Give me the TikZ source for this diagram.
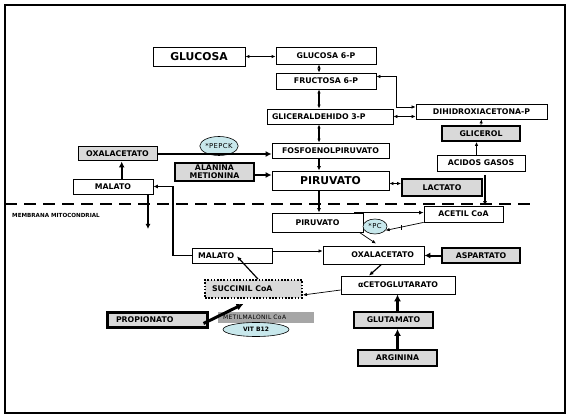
\documentclass[tikz,border=0pt]{standalone}
\usepackage{fontspec}
\setmainfont{DejaVu Sans}
\newfontfamily\spaced[LetterSpace=6]{DejaVu Sans}
\usetikzlibrary{arrows.meta,shapes.geometric,calc}
\definecolor{boxgray}{RGB}{217,217,217}
\definecolor{midgray}{RGB}{166,166,166}
\definecolor{enzyme}{RGB}{200,232,236}
\newcommand{\lab}{\fontsize{7.8}{8.6}\selectfont\bfseries}
\newcommand{\biglab}{\fontsize{10.8}{12}\selectfont\bfseries}

\begin{document}
\begin{tikzpicture}[x=1pt,y=-1pt,
    box/.style={draw, line width=0.8pt, fill=white, inner sep=0pt, font=\lab},
    graybox/.style={box, fill=boxgray, line width=1.8pt},
    enz/.style={draw, ellipse, fill=enzyme, line width=0.6pt, inner sep=0pt},
    arr/.style={-{Latex[length=4pt,width=3.4pt]}, line width=0.7pt},
    marr/.style={-{Latex[length=4.5pt,width=4pt]}, line width=1.2pt},
    tarr/.style={-{Latex[length=6pt,width=6pt]}, line width=2pt},
    dbl/.style={{Latex[length=4pt,width=3.4pt]}-{Latex[length=4pt,width=3.4pt]}, line width=1pt}]
      \useasboundingbox (0,0) rectangle (569,419);
      % Frame and membrane
      \draw[line width=1.2pt] (5,5) rectangle (565,413);
      \draw[line width=1.6pt, dash pattern=on 12pt off 7pt] (5,204.3) -- (530,204.3);
      \node[anchor=west, inner sep=0pt, font=\fontsize{5.6}{6}\selectfont\bfseries] (memb) at (12,215) {MEMBRANA MITOCONDRIAL};
      % Cytosol
      \node[box, minimum width=92pt, minimum height=19pt, font=\biglab] (gluc) at (199,56.5) {GLUCOSA};
      \node[box, minimum width=100pt, minimum height=17pt] (g6p) at (326,55.5) {GLUCOSA 6-P};
      \node[box, minimum width=100pt, minimum height=16pt] (f6p) at (326,81) {FRUCTOSA 6-P};
      \node[box, text width=116pt, inner xsep=5pt, align=left, minimum height=15pt] (gald) at (330,116.5) {GLICERALDEHIDO 3-P};
      \node[box, minimum width=131pt, minimum height=15pt] (dhap) at (481.5,111.5) {DIHIDROXIACETONA-P};
      \node[graybox, minimum width=78pt, minimum height=15pt] (glic) at (481,133.5) {GLICEROL};
      \node[box, minimum width=88pt, minimum height=16pt] (acid) at (481,163) {ACIDOS GASOS};
      \node[box, minimum width=117pt, minimum height=15pt] (pep) at (330.5,150.5) {FOSFOENOLPIRUVATO};
      \node[box, minimum width=117pt, minimum height=19pt, font=\biglab] (pir) at (330.5,180.5) {PIRUVATO};
      \node[graybox, minimum width=80pt, minimum height=17pt] (lac) at (442,187.5) {LACTATO};
      \node[box, fill=boxgray, line width=1pt, minimum width=79pt, minimum height=14pt] (oaac) at (117.5,154) {OXALACETATO};
      \node[graybox, minimum width=79pt, minimum height=18pt, align=center, font=\fontsize{7.8}{7.9}\selectfont\bfseries] (ala) at (214.5,172) {ALANINA\\METIONINA};
      \node[box, minimum width=80pt, minimum height=15pt] (malc) at (113,186.5) {MALATO};
      \node[enz, minimum width=36pt, minimum height=19pt, font=\spaced\fontsize{6.8}{7}\selectfont] (pepck) at (219,146) {*PEPCK};
      % Mitochondria
      \node[box, minimum width=91pt, minimum height=19pt] (pirm) at (317.5,222.5) {PIRUVATO};
      \node[box, minimum width=79pt, minimum height=16pt] (acet) at (463.5,214) {ACETIL CoA};
      \node[enz, minimum width=24pt, minimum height=15pt, font=\spaced\fontsize{6.8}{7}\selectfont] (pc) at (375,226.5) {*PC};
      \node[box, text width=68pt, inner xsep=6pt, align=left, minimum height=15pt] (malm) at (232,255.5) {MALATO};
      \node[box, text width=81pt, inner xsep=10pt, align=right, minimum height=18pt] (oaam) at (373.5,255) {OXALACETATO};
      \node[graybox, minimum width=78pt, minimum height=15pt] (asp) at (481,255.5) {ASPARTATO};
      \node[box, minimum width=114pt, minimum height=18pt] (akg) at (398,285) {αCETOGLUTARATO};
      \node[box, fill=boxgray, line width=1.8pt, dash pattern=on 1.6pt off 1.6pt, text width=83pt, inner xsep=7pt, align=left, minimum height=18pt] (succ) at (253.5,289) {SUCCINIL CoA};
      \node[box, fill=boxgray, line width=3pt, text width=82pt, inner xsep=9pt, align=left, minimum height=15pt] (prop) at (157,319.5) {PROPIONATO};
      \node[fill=midgray, inner sep=0pt, text width=86pt, inner xsep=5pt, align=left, minimum height=11pt, font=\spaced\fontsize{6}{6.5}\selectfont] (mmc) at (266,317.5) {METILMALONIL CoA};
      \node[enz, minimum width=66pt, minimum height=14pt, font=\fontsize{6}{7}\selectfont\bfseries] (vit) at (256,329.5) {VIT B12};
      \node[graybox, minimum width=79pt, minimum height=16pt] (glu) at (393.5,320) {GLUTAMATO};
      \node[graybox, minimum width=79pt, minimum height=16pt] (arg) at (397.5,358) {ARGININA};
      % Helper coordinates
      \coordinate (col) at (319,0);
      \coordinate (dcol) at (396,0);
      \coordinate (mcol) at (173,0);
      \coordinate (fa) at (485,175);
      \coordinate (mout) at (148,229);
      \coordinate (f6pR) at ([yshift=4.5pt]f6p.east);
      \coordinate (dhapL) at ([yshift=4.5pt]dhap.west);
      \coordinate (lacL) at ([yshift=4pt]lac.west);
      \coordinate (alaR) at ([yshift=-3pt]ala.east);
      \coordinate (malcT) at ([xshift=8.7pt]malc.north);
      \coordinate (acidT) at ([xshift=-4.5pt]acid.north);
      \coordinate (pirmT) at ([xshift=-9pt]pirm.north east);
      \coordinate (malmR) at ([yshift=4.5pt]malm.east);
      % Glycolysis
      \draw[dbl] (gluc.east) -- (gluc.east -| g6p.west);
      \draw[dbl] (g6p.south -| col) -- (f6p.north -| col);
      \draw[dbl, line width=1.3pt] (f6p.south -| col) -- (gald.north -| col);
      \draw[dbl, line width=1.3pt] (gald.south -| col) -- (pep.north -| col);
      \draw[marr] (pep.south -| col) -- (pir.north -| col);
      \draw[dbl, line width=0.7pt] (gald.east) -- (gald.east -| dhap.west);
      \draw[dbl, line width=0.7pt] (f6pR) -- (f6pR -| dcol) -- (dcol |- dhapL) -- (dhapL);
      \draw[arr] (glic.north) -- (dhap.south);
      \draw[arr] (acidT) -- (acidT |- glic.south);
      \draw[dbl, line width=0.7pt] (lacL) -- (lacL -| pir.east);
      \draw[tarr] (oaac.east) -- (oaac.east -| pep.west);
      \draw[tarr] (alaR) -- (alaR -| pir.west);
      \draw[tarr] (malcT) -- (malcT |- oaac.south);
      \draw[-{Latex[length=5pt,width=5pt]}, line width=1.6pt] (malc.south -| mout) -- (mout);
      % Into the mitochondria
      \draw[marr] (pir.south -| col) -- (pirm.north -| col);
      \draw[marr] (fa) -- (fa |- acet.north);
      \draw[marr] (pirmT) -- (pirmT -| acet.west);
      \draw[arr] (acet.south west) -- (pc.-20);
      \draw[line width=0.8pt] ($(acet.south west)!0.58!(pc.-20)$) ++(0,-2) -- ++(0,5);
      \draw[arr] ([xshift=-4pt]pirm.south east) -- ([xshift=2.5pt,yshift=2pt]oaam.north);
      \draw[marr] (malm.west) -- (malm.west -| mcol) -- (mcol |- malc.east) -- (malc.east);
      \draw[arr] (malmR) -- (malmR -| oaam.west);
      \draw[tarr] (asp.west) -- (asp.west -| oaam.east);
      \draw[marr] ([xshift=8pt]oaam.south) -- ([xshift=-29pt]akg.north);
      \draw[arr] ([yshift=-5pt]akg.west) -- ([yshift=-6pt]succ.east);
      \draw[marr] ([xshift=4.5pt]succ.north) -- ([xshift=5pt,yshift=7pt]malm.south);
      \draw[-{Latex[length=7pt,width=7pt]}, line width=3pt] ([xshift=-5pt,yshift=-4pt]prop.east) -- ([xshift=-10pt,yshift=-5pt]succ.south);
      \draw[-{Latex[length=7pt,width=7pt]}, line width=3pt] (arg.north) -- (arg.north |- glu.south);
      \draw[-{Latex[length=7pt,width=7pt]}, line width=3pt] (glu.north -| arg.north) -- (arg.north |- akg.south);
    \end{tikzpicture}
\end{document}
